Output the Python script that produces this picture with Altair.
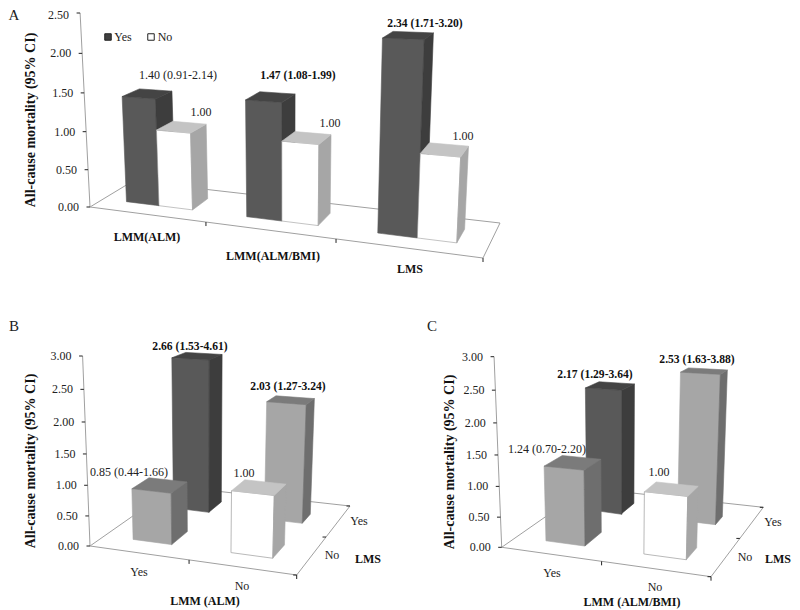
import altair as alt
import numpy as np
import pandas as pd

SERIF = "Liberation Serif"

# ---- values (bar heights as drawn)
A_VALUES = [[1.40, 1.00], [1.47, 1.00], [2.28, 1.00]]
B_VALUES = {"front": [0.85, 1.00], "back": [2.66, 2.03]}
C_VALUES = {"front": [1.24, 1.00], "back": [2.17, 2.53]}
AXIS_A = [0.0, 0.5, 1.0, 1.5, 2.0, 2.5]
AXIS_BC = [0.0, 0.5, 1.0, 1.5, 2.0, 2.5, 3.0]

# ---- face colours (front, side, top)
DARK = ("#595959", "#3d3d3d", "#444444")
GREY = ("#a6a6a6", "#6e6e6e", "#7b7b7b")
WHITE = ("#ffffff", "#a6a6a6", "#c4c4c4")


def make_camera(p00, p10, p11, p01, axis_top, axis_max, vanish):
    (x0, y0), (x1, y1), (x2, y2), (x3, y3) = p00, p10, p11, p01
    dx1, dx2, sx = x1 - x2, x3 - x2, x0 - x1 + x2 - x3
    dy1, dy2, sy = y1 - y2, y3 - y2, y0 - y1 + y2 - y3
    den = dx1 * dy2 - dx2 * dy1
    g = (sx * dy2 - dx2 * sy) / den
    h = (dx1 * sy - sx * dy1) / den
    H = np.array([[x1 - x0 + g * x1, x3 - x0 + h * x3, x0],
                  [y1 - y0 + g * y1, y3 - y0 + h * y3, y0],
                  [g, h, 1.0]])
    s = (axis_top - y0) / (axis_max * (vanish[1] - axis_top))
    c = s * np.array([vanish[0], vanish[1], 1.0])

    def project(u, d, v=0.0):
        q = H @ np.array([u, d, 1.0]) + v * c
        return float(q[0] / q[2]), float(q[1] / q[2])
    return project


cam_a = make_camera((90, 207), (483, 258), (500, 223), (133, 181), 13, 2.5, (286, 4050))
cam_b = make_camera((90, 546), (296.7, 575), (350, 506), (175, 486.5), 356, 3.0, (205, 3500))
cam_c = make_camera((501.7, 547.3), (711, 576.7), (763.3, 507.3), (586.7, 488), 356.7, 3.0, (620, 3500))

area_rows, line_rows, tick_rows = [], [], []
face_no = 0


def add_face(pts, fill, stroke=None):
    global face_no
    face_no += 1
    xs = sorted({round(p[0], 3) for p in pts})
    n = len(pts)
    for x in xs:
        hits = []
        for i in range(n):
            a, b = pts[i], pts[(i + 1) % n]
            lo, hi = min(a[0], b[0]), max(a[0], b[0])
            if lo - 1e-3 <= x <= hi + 1e-3:
                if abs(b[0] - a[0]) < 1e-3:
                    hits += [a[1], b[1]]
                else:
                    hits.append(a[1] + (x - a[0]) / (b[0] - a[0]) * (b[1] - a[1]))
        area_rows.append(dict(x=x, y=min(hits), y2=max(hits), face=f"f{face_no:03d}",
                              fill=fill, stroke=stroke or fill))


def add_bar(cam, u0, u1, d0, d1, v, colours, edge=None):
    front, side, top = colours
    add_face([cam(u0, d0), cam(u1, d0), cam(u1, d0, v), cam(u0, d0, v)], front, edge)
    add_face([cam(u1, d0), cam(u1, d1), cam(u1, d1, v), cam(u1, d0, v)], side)
    add_face([cam(u0, d0, v), cam(u1, d0, v), cam(u1, d1, v), cam(u0, d1, v)], top)


def add_seg(rows, a, b, key):
    rows.append(dict(x=a[0], y=a[1], seg=key))
    rows.append(dict(x=b[0], y=b[1], seg=key))


def add_frame(cam, name, axis_vals, u_ticks, d_ticks):
    add_seg(line_rows, cam(0, 0), cam(1, 0), name + "front")
    add_seg(line_rows, cam(1, 0), cam(1, 1), name + "right")
    add_seg(line_rows, cam(1, 1), cam(0, 1), name + "back")
    add_seg(line_rows, cam(0, 1), cam(0, 0), name + "left")
    add_seg(line_rows, cam(0, 0), cam(0, 0, axis_vals[-1]), name + "axis")
    for v in axis_vals:
        p = cam(0, 0, v)
        add_seg(tick_rows, (p[0] - 3.5, p[1]), p, f"{name}y{v}")
        axis_text.append(dict(x=p[0] - 11, y=max(p[1], 15), t=f"{v:.2f}"))
    for u in u_ticks:
        p = cam(u, 0)
        add_seg(tick_rows, p, (p[0], p[1] + 4), f"{name}u{u}")
    for d in d_ticks:
        p = cam(1, d)
        add_seg(tick_rows, (p[0] - 3.5, p[1]), p, f"{name}d{d}")


axis_text = []
add_frame(cam_a, "a", AXIS_A, [1 / 3, 2 / 3, 1], [])
add_frame(cam_b, "b", AXIS_BC, [0.5, 1], [0, 0.5, 1])
add_frame(cam_c, "c", AXIS_BC, [0.5, 1], [0, 0.5, 1])

# panel A: clustered bars (left, middle, right edge inside each category)
A_EDGES = [(0.21, 0.50, 0.79), (0.24, 0.52, 0.80), (0.24, 0.52, 0.79)]
for i, (yes, no) in enumerate(A_VALUES):
    e0, e1, e2 = A_EDGES[i]
    add_bar(cam_a, (i + e0) / 3, (i + e1) / 3, 0.30, 0.70, yes, DARK)
    add_bar(cam_a, (i + e1) / 3, (i + e2) / 3, 0.30, 0.70, no, WHITE, "#9a9a9a")

# panel B
add_bar(cam_b, 0.142, 0.342, 0.65, 0.83, B_VALUES["back"][0], DARK)
add_bar(cam_b, 0.642, 0.84, 0.65, 0.80, B_VALUES["back"][1], GREY)
add_bar(cam_b, 0.15, 0.35, 0.15, 0.34, B_VALUES["front"][0], GREY)
add_bar(cam_b, 0.645, 0.845, 0.15, 0.33, B_VALUES["front"][1], WHITE, "#8a8a8a")
# panel C
add_bar(cam_c, 0.15, 0.345, 0.65, 0.83, C_VALUES["back"][0], DARK)
add_bar(cam_c, 0.645, 0.84, 0.65, 0.78, C_VALUES["back"][1], GREY)
add_bar(cam_c, 0.155, 0.355, 0.15, 0.35, C_VALUES["front"][0], GREY)
add_bar(cam_c, 0.645, 0.845, 0.15, 0.31, C_VALUES["front"][1], WHITE, "#8a8a8a")

# ---- annotation text
value_labels = [
    ("1.40 (0.91-2.14)", 178, 75), ("1.00", 201, 112), ("1.00", 330, 123), ("1.00", 463, 136),
    ("0.85 (0.44-1.66)", 129, 472), ("1.00", 244, 473),
    ("1.24 (0.70-2.20)", 547, 449), ("1.00", 659, 472),
]
bold_labels = [
    ("1.47 (1.08-1.99)", 298, 76), ("2.34 (1.71-3.20)", 425, 24),
    ("2.66 (1.53-4.61)", 190, 347), ("2.03 (1.27-3.24)", 288, 387),
    ("2.17 (1.29-3.64)", 595, 375), ("2.53 (1.63-3.88)", 697, 360),
]
cat_labels = [
    ("Yes", 123, 37), ("No", 165, 37),
    ("Yes", 139, 572), ("No", 242, 586), ("Yes", 359, 521), ("No", 332, 555),
    ("Yes", 552, 573), ("No", 655, 587), ("Yes", 773, 522), ("No", 745, 557),
]
bold_axis = [
    ("LMM(ALM)", 147, 237), ("LMM(ALM/BMI)", 273, 256), ("LMS", 410, 269),
    ("LMM (ALM)", 205, 601), ("LMS", 368, 559),
    ("LMM (ALM/BMI)", 632, 602), ("LMS", 778, 559),
]
y_titles = [("All-cause mortality (95% CI)", 31, 120),
            ("All-cause mortality (95% CI)", 31, 461),
            ("All-cause mortality (95% CI)", 450, 462)]
panel_letters = [("A", 14, 15), ("B", 14, 326), ("C", 432, 326)]
legend_keys = [(108, 37, "#404040"), (151, 37, "#ffffff")]

X = alt.X("x:Q", axis=None, scale=alt.Scale(domain=[8, 792], nice=False, zero=False))
Y = alt.Y("y:Q", axis=None, scale=alt.Scale(domain=[610, 8], nice=False, zero=False))


def txt(rows):
    return pd.DataFrame(rows, columns=["t", "x", "y"])


def text_layer(rows, **kw):
    return alt.Chart(txt(rows)).mark_text(font=SERIF, **kw).encode(x=X, y=Y, text="t:N")


floor = alt.Chart(pd.DataFrame(line_rows)).mark_line(color="#a0a0a0", strokeWidth=1).encode(
    x=X, y=Y, detail="seg:N", order=alt.Order("idx:Q")
).transform_window(idx="row_number()")
ticks = alt.Chart(pd.DataFrame(tick_rows)).mark_line(color="#222222", strokeWidth=1).encode(
    x=X, y=Y, detail="seg:N", order=alt.Order("idx:Q")
).transform_window(idx="row_number()")
faces = alt.Chart(pd.DataFrame(area_rows)).mark_area(strokeWidth=0.6, opacity=1).encode(
    x=X, y=Y, y2=alt.Y2("y2:Q"),
    fill=alt.Fill("fill:N", scale=None),
    stroke=alt.Stroke("stroke:N", scale=None),
    detail="face:N",
)
keys = alt.Chart(pd.DataFrame(legend_keys, columns=["x", "y", "fill"])).mark_square(
    size=42, stroke="#222222", strokeWidth=1, opacity=1
).encode(x=X, y=Y, fill=alt.Fill("fill:N", scale=None))
axis_labels = alt.Chart(pd.DataFrame(axis_text)).mark_text(
    font=SERIF, fontSize=12, align="right", color="#222222"
).encode(x=X, y=Y, text="t:N")

chart = alt.layer(
    floor, ticks, faces, keys, axis_labels,
    text_layer(value_labels, fontSize=12, color="#222222"),
    text_layer(bold_labels, fontSize=11.6, fontWeight="bold", color="#111111"),
    text_layer(cat_labels, fontSize=12, color="#222222"),
    text_layer(bold_axis, fontSize=12, fontWeight="bold", color="#111111"),
    text_layer(y_titles, fontSize=14, fontWeight="bold", angle=270, color="#111111"),
    text_layer(panel_letters, fontSize=15, color="#222222"),
).properties(width=784, height=602, padding=0, background="white",
             autosize=alt.AutoSizeParams(type="none")).configure_view(stroke=None)

chart.save("out.html", embed_options={"renderer": "svg", "actions": False})
